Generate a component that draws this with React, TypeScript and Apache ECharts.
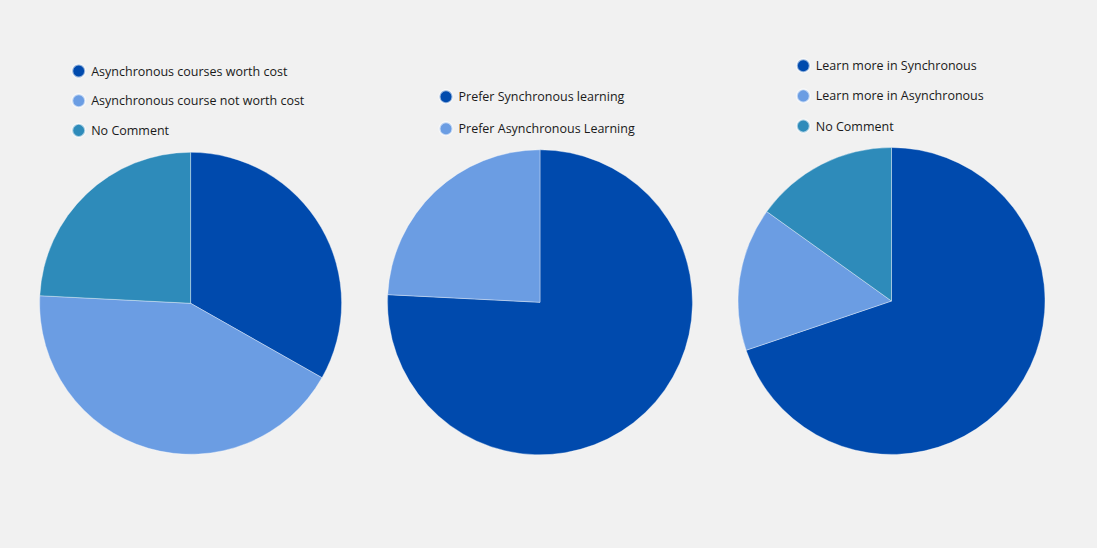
import React, { useEffect, useRef } from "react";
import * as echarts from "echarts";

const colors = ["#004AAD", "#6B9DE3", "#2E8BBA"];

const pie1Names = [
  "Asynchronous courses worth cost",
  "Asynchronous course not worth cost",
  "No Comment",
];
const pie1Values = [33.2, 42.6, 24.2];

const pie2Names = ["Prefer Synchronous learning", "Prefer Asynchronous Learning"];
const pie2Values = [75.8, 24.2];

const pie3Names = [
  "Learn more in Synchronous",
  "Learn more in Asynchronous",
  "No Comment",
];
const pie3Values = [69.8, 15.1, 15.1];

const toData = (names: string[], values: number[]) =>
  names.map((n, i) => ({ name: n, value: values[i], itemStyle: { color: colors[i] } }));

export default function App() {
  const ref = useRef<HTMLDivElement>(null);
  useEffect(() => {
    document.body.style.margin = "0";
    const chart = echarts.init(ref.current!, undefined, { renderer: "svg" });
    const legendBase = {
      orient: "vertical" as const,
      icon: "circle",
      itemWidth: 15,
      itemHeight: 13,
      padding: 0,
      selectedMode: false,
      textStyle: {
        fontFamily: "Open Sans",
        fontSize: 12.5,
        color: "#1a1a1a",
        lineHeight: 16,
      },
    };
    const pieBase = {
      type: "pie" as const,
      startAngle: 90,
      clockwise: true,
      label: { show: false },
      labelLine: { show: false },
      emphasis: { disabled: true },
      itemStyle: { borderColor: "rgba(255,255,255,0.6)", borderWidth: 0.6 },
    };
    chart.setOption({
      animation: false,
      backgroundColor: "#f1f1f1",
      legend: [
        { ...legendBase, left: 71.2, top: 63, itemGap: 13.7, data: pie1Names },
        { ...legendBase, left: 438.5, top: 88.7, itemGap: 16, data: pie2Names },
        { ...legendBase, left: 795.8, top: 57.7, itemGap: 14.2, data: pie3Names },
      ],
      series: [
        { ...pieBase, center: [190.6, 303.3], radius: 151, data: toData(pie1Names, pie1Values) },
        { ...pieBase, center: [540, 302.3], radius: 152.5, data: toData(pie2Names, pie2Values) },
        { ...pieBase, center: [891.5, 301], radius: 153.5, data: toData(pie3Names, pie3Values) },
      ],
    });
    return () => chart.dispose();
  }, []);
  return (
    <div
      ref={ref}
      style={{ position: "fixed", left: 0, top: 0, width: 1097, height: 548 }}
    />
  );
}
